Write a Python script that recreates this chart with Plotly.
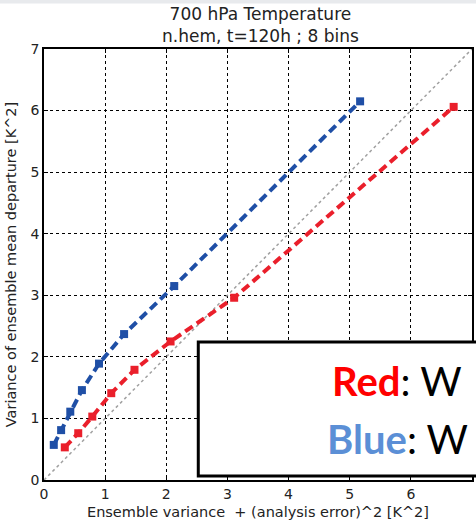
import plotly.graph_objects as go

# Data
blue_x = [0.16, 0.28, 0.43, 0.62, 0.90, 1.31, 2.13, 5.17]
blue_y = [0.57, 0.81, 1.11, 1.46, 1.89, 2.37, 3.15, 6.15]
red_x = [0.34, 0.56, 0.79, 1.10, 1.48, 2.07, 3.11, 6.70]
red_y = [0.53, 0.76, 1.03, 1.41, 1.79, 2.25, 2.96, 6.06]
diag = [0, 7]
ticks = [0, 1, 2, 3, 4, 5, 6, 7]

title_1 = "700 hPa Temperature"
title_2 = "n.hem, t=120h ; 8 bins"
x_title = "Ensemble variance  + (analysis error)^2 [K^2]"
y_title = "Variance of ensemble mean departure [K^2]"

W, H = 476, 524
ML, MR, MT, MB = 44, 2, 49, 44
PW, PH = W - ML - MR, H - MT - MB

def px_x(p):
    return (p - ML) / PW

def px_y(p):
    return (H - MB - p) / PH

BLUE = "#1f4fa6"
RED = "#ea1f2b"
FONT = "DejaVu Sans"

fig = go.Figure()
fig.add_trace(go.Scatter(x=diag, y=diag, mode="lines",
                         line=dict(color="#a0a0a0", width=1.5, dash="dot"),
                         hoverinfo="skip", showlegend=False))
fig.add_trace(go.Scatter(x=red_x, y=red_y, mode="lines+markers",
                         line=dict(color=RED, width=4, dash="9px,5px"),
                         marker=dict(symbol="square", size=8, color=RED,
                                     line=dict(width=0)),
                         showlegend=False))
fig.add_trace(go.Scatter(x=blue_x, y=blue_y, mode="lines+markers",
                         line=dict(color=BLUE, width=4, dash="9px,5px"),
                         marker=dict(symbol="square", size=8, color=BLUE,
                                     line=dict(width=0)),
                         showlegend=False))

axis_common = dict(range=[0, 7], tickvals=ticks, showgrid=True,
                   gridcolor="#000000", griddash="dot", gridwidth=1,
                   showline=True, linecolor="#000000", linewidth=1.5,
                   mirror="ticks", ticks="inside", ticklen=4,
                   tickcolor="#000000", zeroline=False,
                   tickfont=dict(family=FONT, size=14, color="#222222"))

fig.update_xaxes(**axis_common,
                 title=dict(text=x_title, standoff=6,
                            font=dict(family=FONT, size=14.5, color="#222222")))
fig.update_yaxes(**axis_common,
                 title=dict(text=y_title, standoff=10,
                            font=dict(family=FONT, size=14.5, color="#222222")))

shapes = [
    dict(type="rect", xref="paper", yref="paper",
         x0=px_x(-5), x1=px_x(W + 5), y0=px_y(3.5), y1=px_y(-5),
         fillcolor="#e8eaed", line=dict(width=0), layer="above"),
    dict(type="rect", xref="paper", yref="paper",
         x0=px_x(199), x1=px_x(W + 20), y0=px_y(476), y1=px_y(342),
         fillcolor="#ffffff", line=dict(color="#000000", width=3),
         layer="above"),
]

annotations = [
    dict(text=title_1 + "<br>" + title_2, xref="paper", yref="paper",
         x=px_x(262), y=px_y(25.5),
         xanchor="center", yanchor="middle", showarrow=False,
         font=dict(family=FONT, size=17, color="#222222")),
    dict(text="<b><span style='color:#ff0000'>Red</span></b>: W",
         xref="paper", yref="paper", x=px_x(331), y=px_y(381),
         xanchor="left", yanchor="middle", showarrow=False,
         font=dict(family="Lato", size=40, color="#000000")),
    dict(text="<b><span style='color:#5b8fd6'>Blue</span></b>: W",
         xref="paper", yref="paper", x=px_x(326), y=px_y(439),
         xanchor="left", yanchor="middle", showarrow=False,
         font=dict(family="Lato", size=40, color="#000000")),
]

fig.update_layout(width=W, height=H,
                  margin=dict(l=ML, r=MR, t=MT, b=MB),
                  paper_bgcolor="#ffffff", plot_bgcolor="#ffffff",
                  shapes=shapes, annotations=annotations)

fig.write_html("out.html")
